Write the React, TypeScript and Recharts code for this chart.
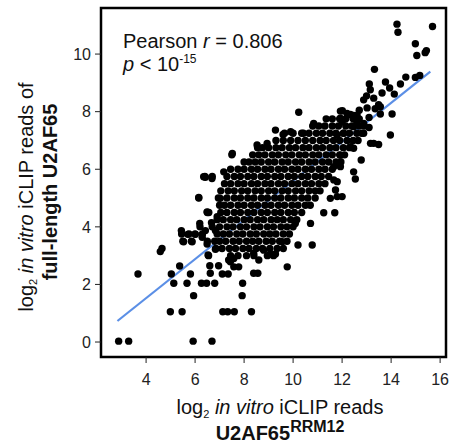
import React from "react"
import {
  ScatterChart,
  Scatter,
  XAxis,
  YAxis,
  ReferenceLine,
  ReferenceArea,
} from "recharts"

const font = "'Liberation Sans', Arial, sans-serif"

const xTicks = [4, 6, 8, 10, 12, 14, 16]
const yTicks = [0, 2, 4, 6, 8, 10]
const xDomain: [number, number] = [2.16, 16.24]
const yDomain: [number, number] = [-0.52, 11.6]

// regression line ends
const fitLine = [
  { x: 2.83, y: 0.73 },
  { x: 15.6, y: 9.39 },
]

const pearsonR = "0.806"

// dense middle of the cloud, row by row
const coreRows: { y: number; xs: number[] }[] = [
  { y: 3.0, xs: [6.55, 7.45, 7.75, 8.1, 8.4, 8.95, 9.2] },
  { y: 3.25, xs: [6.85, 7.1, 7.4, 7.65, 7.95, 8.2, 8.5, 8.75, 9.05, 9.35, 9.6] },
  { y: 3.5, xs: [5.5, 5.85, 6.5, 6.8, 7.0, 7.25, 7.55, 7.8, 8.1, 8.35, 8.6, 8.9, 9.15, 9.45, 9.75] },
  { y: 3.75, xs: [5.45, 5.75, 6.0, 6.3, 6.9, 7.15, 7.4, 7.7, 7.95, 8.25, 8.5, 8.8, 9.05, 9.3, 9.6, 9.85] },
  { y: 4.0, xs: [6.2, 6.7, 7.0, 7.3, 7.55, 7.85, 8.1, 8.4, 8.65, 8.95, 9.2, 9.5, 9.75, 10.0] },
  { y: 4.25, xs: [6.9, 7.15, 7.45, 7.7, 8.0, 8.25, 8.55, 8.8, 9.1, 9.35, 9.6, 9.9, 10.15] },
  { y: 4.5, xs: [6.5, 7.05, 7.3, 7.6, 7.85, 8.15, 8.4, 8.7, 8.95, 9.25, 9.5, 9.8, 10.05, 10.35] },
  { y: 4.75, xs: [7.0, 7.2, 7.45, 7.75, 8.0, 8.3, 8.55, 8.85, 9.1, 9.4, 9.65, 9.95, 10.2, 10.5, 10.7] },
  { y: 5.0, xs: [6.15, 6.95, 7.3, 7.6, 7.85, 8.15, 8.4, 8.7, 8.95, 9.25, 9.5, 9.8, 10.05, 10.35, 10.6, 10.9] },
  { y: 5.25, xs: [7.05, 7.35, 7.6, 7.9, 8.15, 8.45, 8.7, 9.0, 9.25, 9.55, 9.8, 10.1, 10.35, 10.65, 10.9, 11.1] },
  { y: 5.5, xs: [7.2, 7.45, 7.75, 8.0, 8.3, 8.55, 8.85, 9.1, 9.4, 9.65, 9.95, 10.2, 10.5, 10.75, 11.05, 11.3] },
  { y: 5.75, xs: [6.4, 6.7, 7.3, 7.6, 7.85, 8.15, 8.4, 8.7, 8.95, 9.25, 9.5, 9.8, 10.05, 10.35, 10.6, 10.9, 11.15, 11.45] },
  { y: 6.0, xs: [7.45, 7.75, 8.0, 8.3, 8.55, 8.85, 9.1, 9.4, 9.65, 9.95, 10.2, 10.5, 10.75, 11.05, 11.3, 11.6] },
  { y: 6.25, xs: [8.0, 8.2, 8.45, 8.7, 9.0, 9.25, 9.55, 9.8, 10.1, 10.35, 10.65, 10.9, 11.2, 11.45, 11.75, 11.95] },
  { y: 6.5, xs: [7.5, 8.35, 8.6, 8.85, 9.15, 9.4, 9.7, 9.95, 10.25, 10.5, 10.8, 11.05, 11.35, 11.6, 11.9, 12.1] },
  { y: 6.75, xs: [8.55, 8.75, 9.0, 9.3, 9.55, 9.85, 10.1, 10.4, 10.65, 10.95, 11.2, 11.5, 11.75, 12.05, 12.3] },
  { y: 7.0, xs: [9.3, 9.6, 9.9, 10.2, 10.5, 10.8, 11.1, 11.35, 11.65, 11.9, 12.2, 12.45, 12.65] },
  { y: 7.25, xs: [9.65, 10.0, 10.35, 10.65, 10.95, 11.2, 11.5, 11.75, 12.05, 12.3, 12.6, 12.8] },
  { y: 7.5, xs: [10.8, 11.05, 11.3, 11.6, 11.85, 12.15, 12.4, 12.7, 12.9] },
  { y: 7.75, xs: [11.35, 11.6, 11.9, 12.15, 12.45, 12.7] },
]

const upperPoints: [number, number][] = [
  [14.24, 11.04], [14.28, 10.76], [15.69, 10.96], [14.99, 10.36], [15.05, 9.95],
  [15.44, 10.12], [15.39, 10.05], [13.32, 9.47], [15.17, 9.26], [14.99, 9.19],
  [14.6, 9.2], [14.38, 8.96], [13.77, 9.03], [13.11, 8.96], [13.94, 8.82],
  [13.15, 8.76], [13.63, 8.65], [14.13, 8.61], [13.29, 8.47], [12.88, 8.41],
  [13.49, 8.24], [13.02, 8.13], [12.01, 8.03], [14.04, 7.92], [13.56, 7.92],
  [12.47, 7.87], [10.23, 7.98], [11.93, 8.02], [13.56, 8.17], [12.61, 7.88],
  [12.34, 7.9], [12.2, 7.94], [13.0, 8.55], [13.35, 8.1], [12.7, 8.05], [13.1, 7.8],
]

const rightPoints: [number, number][] = [
  [13.97, 7.19], [13.29, 6.9], [13.49, 6.86], [13.16, 6.9], [12.78, 6.32],
  [12.47, 5.91], [12.54, 5.66], [12.0, 5.05], [11.73, 5.28], [11.66, 5.63],
  [12.88, 7.59], [12.88, 7.25], [12.07, 7.25], [11.8, 7.19], [12.34, 6.78],
  [12.47, 6.73], [11.93, 6.49], [11.66, 6.09], [11.93, 6.09], [12.47, 7.48],
  [12.0, 7.65], [11.25, 4.49], [11.7, 4.49], [10.71, 4.12], [10.2, 3.37],
  [10.78, 3.37], [9.76, 2.61], [9.55, 3.48], [10.09, 4.12], [11.52, 4.99],
  [11.8, 5.05], [11.8, 5.57], [11.93, 7.77], [12.6, 7.6], [13.1, 7.45],
]

const leftPoints: [number, number][] = [
  [10.84, 7.59], [9.28, 7.36], [9.59, 7.21], [7.52, 6.55], [6.42, 5.72],
  [6.69, 5.68], [6.15, 5.02], [7.17, 5.91], [6.56, 4.5], [6.9, 4.35],
  [6.19, 4.12], [6.67, 4.14], [5.44, 3.87], [5.7, 3.74], [6.01, 3.74],
  [6.42, 3.87], [6.83, 3.87], [7.03, 4.99], [8.53, 6.84], [8.94, 6.9],
  [6.49, 4.52], [6.35, 5.74], [10.42, 7.25], [9.9, 7.3],
]

const lowPoints: [number, number][] = [
  [2.88, 0.03], [3.29, 0.03], [5.92, 0.03], [6.69, 0.03],
  [4.99, 1.05], [5.47, 1.05], [7.13, 1.05], [7.33, 1.05], [7.6, 1.05], [8.3, 1.05],
  [5.94, 1.61], [7.92, 1.61],
  [3.67, 2.36], [5.03, 2.36], [5.13, 2.04], [5.67, 2.04], [5.37, 2.64], [5.81, 2.36],
  [6.26, 2.04], [6.47, 2.04], [6.8, 2.04], [6.62, 2.39], [6.96, 2.65], [6.6, 2.65],
  [7.11, 2.36], [7.35, 2.36], [4.58, 3.14], [4.65, 3.25], [6.53, 3.02], [6.83, 3.22],
  [5.53, 3.48], [5.88, 3.48], [6.29, 3.64], [6.49, 3.4], [7.37, 2.85], [7.58, 2.9],
  [7.44, 2.79], [7.78, 2.61], [7.58, 2.61], [8.6, 2.85], [8.39, 2.39], [8.56, 2.39],
  [7.94, 2.04], [9.07, 3.06], [9.28, 3.06], [8.8, 3.19], [8.39, 3.08],
]

const points = [
  ...coreRows.flatMap((r) => r.xs.map((x) => ({ x, y: r.y }))),
  ...[...upperPoints, ...rightPoints, ...leftPoints, ...lowPoints].map(([x, y]) => ({ x, y })),
]

const Dot = (props: any) => <circle cx={props.cx} cy={props.cy} r={3.7} fill="#000" />

const XTitle = () => (
  <g fontFamily={font} fill="#111">
    <text x={280} y={414} textAnchor="middle" fontSize={20}>
      log<tspan fontSize={11} dy={4}>2</tspan>
      <tspan dy={-4} fontStyle="italic"> in vitro</tspan> iCLIP reads
    </text>
    <text x={280} y={440} textAnchor="middle" fontSize={20} fontWeight="bold">
      U2AF65<tspan fontSize={16} dy={-8}>RRM12</tspan>
    </text>
  </g>
)

const YTitle = () => (
  <g fontFamily={font} fill="#111">
    <text transform="translate(33,197) rotate(-90)" textAnchor="middle" fontSize={20}>
      log<tspan fontSize={11} dy={4}>2</tspan>
      <tspan dy={-4} fontStyle="italic"> in vitro</tspan> iCLIP reads of
    </text>
    <text transform="translate(57,192) rotate(-90)" textAnchor="middle" fontSize={20} fontWeight="bold">
      full-length U2AF65
    </text>
  </g>
)

const StatsText = () => (
  <g fontFamily={font} fill="#111">
    <text x={123} y={48} fontSize={20}>
      Pearson <tspan fontStyle="italic">r</tspan> = {pearsonR}
    </text>
    <text x={123} y={71} fontSize={20}>
      <tspan fontStyle="italic">p</tspan> &lt; 10<tspan fontSize={12} dy={-8}>-15</tspan>
    </text>
  </g>
)

export default function App() {
  return (
    <div style={{ position: "absolute", left: 0, top: 0 }}>
      <ScatterChart
        width={451}
        height={443}
        margin={{ top: 8, right: 5, bottom: 0, left: 0 }}
      >
        <XAxis
          type="number"
          dataKey="x"
          domain={xDomain}
          ticks={xTicks}
          interval={0}
          allowDataOverflow
          height={86}
          axisLine={false}
          tickSize={6}
          tickMargin={11}
          tickLine={{ stroke: "#222" }}
          tick={{ fontSize: 16, fill: "#222", fontFamily: font }}
          label={<XTitle />}
        />
        <YAxis
          type="number"
          dataKey="y"
          domain={yDomain}
          ticks={yTicks}
          interval={0}
          allowDataOverflow
          width={101}
          axisLine={false}
          tickSize={6}
          tickMargin={4}
          tickLine={{ stroke: "#222" }}
          tick={{ fontSize: 16, fill: "#222", fontFamily: font }}
          label={<YTitle />}
        />
        <Scatter data={points} shape={Dot} isAnimationActive={false} />
        <ReferenceLine
          segment={fitLine}
          stroke="#5b8fe6"
          strokeWidth={2.2}
          ifOverflow="visible"
        />
        <ReferenceArea
          x1={xDomain[0]}
          x2={xDomain[1]}
          y1={yDomain[0]}
          y2={yDomain[1]}
          fill="none"
          fillOpacity={0}
          stroke="#000"
          strokeWidth={2.5}
          ifOverflow="visible"
          label={<StatsText />}
        />
      </ScatterChart>
    </div>
  )
}
